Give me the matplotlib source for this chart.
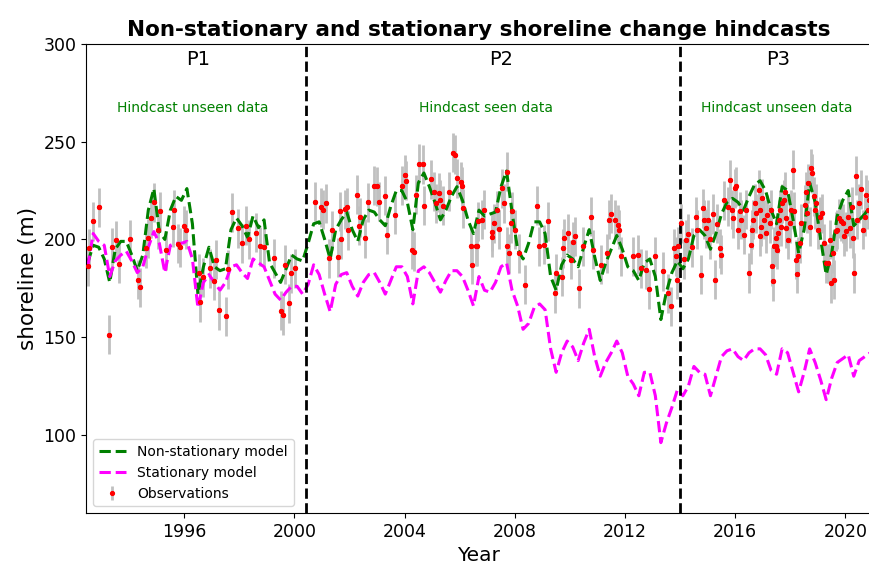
import matplotlib

matplotlib.use("Agg")
import matplotlib.pyplot as plt
import numpy as np


# model hindcasts, one value every 0.2 yr starting at T0
T0 = 1992.5
STEP = 0.2
NONSTAT = [
    188, 197, 196, 190, 178, 195, 199, 199, 192, 184, 192, 215, 226, 204, 200, 215, 222, 220, 226, 208, 172, 186, 196, 186, 184,
    185, 205, 211, 207, 201, 212, 206, 210, 188, 183, 178, 185, 192, 190, 189, 198, 208, 209, 200, 190, 205, 210, 214,
    205, 199, 210, 215, 214, 210, 207, 217, 225, 225, 219, 205, 229, 234, 227, 219, 210, 215, 222, 227, 220, 210, 203,
    215, 212, 213, 214, 227, 235, 214, 195, 190, 198, 209, 209, 203, 181, 174, 187, 192, 190, 186, 196, 205, 191, 179, 188,
    195, 202, 195, 186, 184, 179, 188, 190, 181, 159, 173, 183, 189, 185, 190, 202, 205, 202, 195, 203, 213, 219, 221,
    219, 215, 222, 228, 230, 225, 215, 208, 227, 225, 210, 193, 205, 229, 219, 200, 182, 193, 212, 220, 225, 207, 210, 213, 217,
]
STAT = [
    186, 203, 199, 197, 181, 189, 192, 194, 189, 183, 186, 196, 204, 198, 183, 197, 198, 198, 199, 190, 165, 178, 182, 178, 174,
    178, 186, 187, 183, 180, 190, 188, 186, 179, 172, 169, 173, 176, 176, 172, 177, 187, 182, 172, 163, 177, 182, 183,
    176, 171, 178, 182, 183, 178, 172, 179, 186, 186, 181, 167, 184, 186, 183, 178, 173, 179, 184, 184, 181, 174, 166,
    181, 174, 173, 178, 186, 188, 174, 166, 154, 157, 165, 167, 164, 144, 132, 142, 148, 145, 138, 147, 154, 140, 130, 137,
    142, 148, 142, 130, 126, 120, 132, 132, 120, 96, 106, 114, 123, 120, 125, 135, 132, 131, 120, 130, 140, 143, 144,
    140, 138, 142, 144, 144, 141, 133, 131, 144, 142, 132, 122, 132, 144, 137, 128, 118, 129, 137, 139, 141, 130, 138, 140, 142,
]

OBS_YEAR = [
    1992.50, 1992.53, 1992.68, 1992.92, 1993.26, 1993.38, 1993.53, 1993.65, 1994.05, 1994.32, 1994.38, 1994.62,
    1994.68, 1994.80, 1994.92, 1995.04, 1995.13, 1995.35, 1995.59, 1995.62, 1995.77, 1995.85, 1995.99, 1996.07,
    1996.53, 1996.58, 1996.68, 1996.95, 1997.08, 1997.16, 1997.26, 1997.51, 1997.59, 1997.73, 1997.95, 1998.10,
    1998.24, 1998.34, 1998.61, 1998.76, 1998.88, 1999.25, 1999.51, 1999.59, 1999.67, 1999.79, 1999.89, 2000.04,
    2000.76, 2000.98, 2001.03, 2001.13, 2001.25, 2001.35, 2001.59, 2001.64, 2001.71, 2001.83, 2001.95,
    2001.92, 2002.28, 2002.34, 2002.40, 2002.58, 2002.68, 2002.89, 2003.01, 2003.07, 2003.29, 2003.37, 2003.67,
    2003.89, 2004.01, 2004.04, 2004.28, 2004.34, 2004.40, 2004.52, 2004.67, 2004.69, 2004.95, 2005.07, 2005.13,
    2005.25, 2005.29, 2005.40, 2005.61, 2005.76, 2005.83, 2005.92, 2006.04, 2006.10, 2006.13, 2006.40, 2006.46,
    2006.58, 2006.64, 2006.66, 2006.80, 2006.88, 2007.16, 2007.19, 2007.25, 2007.37, 2007.41, 2007.55, 2007.61,
    2007.71, 2007.73, 2007.79, 2007.85, 2007.89, 2008.01, 2008.16, 2008.38, 2008.82, 2008.88, 2009.07, 2009.19,
    2009.47, 2009.49, 2009.71, 2009.76, 2009.79, 2009.92, 2010.04, 2010.10, 2010.19, 2010.34, 2010.46, 2010.76,
    2010.82, 2011.13, 2011.33, 2011.41, 2011.49, 2011.65, 2011.73, 2011.79, 2011.85, 2012.28, 2012.46, 2012.58,
    2012.76, 2012.88, 2013.07, 2013.37, 2013.55, 2013.67, 2013.79, 2013.85, 2013.87, 2013.91, 2014.04, 2014.15,
    2014.22, 2014.30, 2014.42, 2014.56, 2014.61, 2014.76, 2014.82, 2014.88, 2014.95, 2015.00, 2015.10, 2015.18,
    2015.25, 2015.35, 2015.43, 2015.49, 2015.60, 2015.73, 2015.82, 2015.89, 2015.91, 2015.98,
    2016.04, 2016.10, 2016.16, 2016.22, 2016.30, 2016.40, 2016.50, 2016.58, 2016.62, 2016.64, 2016.70, 2016.76,
    2016.86, 2016.88, 2016.91, 2016.94, 2016.98, 2017.03, 2017.10, 2017.15, 2017.25, 2017.31, 2017.35, 2017.37,
    2017.39, 2017.47, 2017.49, 2017.51, 2017.55, 2017.59, 2017.64, 2017.67, 2017.71, 2017.76, 2017.79, 2017.83,
    2017.85, 2017.91, 2017.98, 2018.04, 2018.10, 2018.12, 2018.19, 2018.24, 2018.28, 2018.34, 2018.40, 2018.52,
    2018.58, 2018.61, 2018.64, 2018.70, 2018.76, 2018.80, 2018.85, 2018.88, 2018.94, 2019.01, 2019.07, 2019.13,
    2019.21, 2019.28, 2019.37, 2019.43, 2019.49, 2019.55, 2019.58, 2019.65, 2019.71, 2019.77, 2019.85, 2019.91,
    2019.94, 2020.01, 2020.10, 2020.16, 2020.22, 2020.28, 2020.30, 2020.38, 2020.42, 2020.50, 2020.55, 2020.62,
    2020.70, 2020.76, 2020.82, 2020.86,
]
OBS_VAL = [
    186.2, 195.5, 209.2, 216.5, 151.2, 196.0, 199.5, 187.5, 200.1, 179.3, 175.6, 195.5,
    200.6, 210.9, 218.9, 204.9, 214.3, 194.4, 206.3, 215.1, 197.8, 196.0, 207.0, 204.9,
    182.7, 167.8, 180.7, 185.3, 178.8, 189.6, 163.7, 160.6, 184.8, 213.8, 205.8, 198.1,
    207.0, 200.1, 203.5, 196.4, 195.9, 190.4, 163.5, 161.1, 187.0, 167.4, 182.7, 185.3,
    219.4, 216.5, 215.1, 218.5, 190.4, 204.6, 190.9, 214.3, 200.1, 215.5, 204.6,
    216.5, 222.8, 207.0, 211.4, 200.7, 218.9, 227.4, 227.1, 219.4, 222.3, 202.4, 212.6,
    227.4, 233.0, 230.1, 194.7, 193.8, 222.8, 238.7, 238.5, 217.2, 230.8, 224.5, 218.6,
    224.0, 220.2, 217.2, 224.5, 244.4, 243.3, 231.3, 229.6, 227.1, 216.0, 196.4, 187.0,
    196.4, 196.4, 209.2, 210.0, 215.1, 201.2, 204.0, 208.3, 214.8, 205.2, 226.2, 218.6,
    234.7, 196.4, 193.0, 208.3, 214.3, 204.9, 193.0, 176.8, 217.2, 196.4, 197.2, 209.2,
    172.5, 182.7, 181.0, 195.5, 200.6, 203.2, 189.6, 198.9, 201.5, 175.1, 196.4, 211.7,
    194.7, 187.0, 193.0, 210.0, 213.1, 210.0, 207.5, 204.9, 191.3, 191.3, 192.1, 185.3,
    184.5, 174.6, 191.3, 183.6, 172.5, 165.7, 195.5, 191.3, 179.4, 196.4, 208.3, 190.0,
    199.8, 203.0, 196.0, 211.7, 204.9, 181.9, 216.0, 210.0, 205.8, 210.0, 200.0, 213.0,
    179.4, 208.0, 195.5, 192.1, 220.0, 216.8, 230.5, 215.1, 210.9, 226.2,
    227.1, 204.9, 214.3, 210.0, 202.4, 215.1, 182.8, 197.2, 204.9, 210.0, 218.6, 213.4,
    225.4, 201.5, 215.1, 206.6, 221.1, 210.0, 203.2, 212.6, 208.3, 215.1, 186.2, 178.5,
    196.4, 196.4, 200.7, 194.7, 203.2, 210.0, 215.1, 206.6, 218.6, 220.3, 224.5, 210.9,
    205.8, 199.8, 208.3, 215.1, 235.6, 214.3, 189.6, 182.4, 191.3, 198.1, 208.3, 217.7,
    224.5, 213.4, 228.8, 206.6, 236.4, 233.9, 222.0, 215.1, 218.6, 204.9, 211.7, 213.4,
    198.1, 187.9, 187.9, 199.8, 177.6, 193.0, 179.3, 204.1, 204.9, 210.9, 209.2, 208.3,
    201.5, 204.1, 211.7, 205.8, 216.8, 200.7, 182.8, 232.5, 210.0, 218.6, 225.7, 204.9,
    211.7, 222.8, 215.1, 220.3,
]
OBS_ERR = 10.0

SPLITS = [2000.44, 2014.0]
PERIODS = ["P1", "P2", "P3"]
PERIOD_X = [1996.5, 2007.5, 2017.55]
NOTES = ["Hindcast unseen data", "Hindcast seen data", "Hindcast unseen data"]
NOTE_X = [1996.3, 2006.95, 2017.5]


def main() -> None:
    years = T0 + STEP * np.arange(len(NONSTAT))

    fig = plt.figure(figsize=(8.7, 5.7), dpi=100)
    ax = fig.add_axes([0.0989, 0.1, 0.903, 0.8228])

    # grey bars + red dots, drawn below the model lines
    ax.errorbar(OBS_YEAR, OBS_VAL, yerr=OBS_ERR, fmt=".", color="red", ecolor="silver",
                elinewidth=2, markersize=5.5, zorder=1, label="Observations")
    ax.plot(years, NONSTAT, "--", color="green", lw=2.2, zorder=2, label="Non-stationary model")
    ax.plot(years, STAT, "--", color="magenta", lw=2.2, zorder=2, label="Stationary model")
    ax.plot(OBS_YEAR, OBS_VAL, ".", color="red", markersize=5.5, zorder=3)

    for xs in SPLITS:
        ax.axvline(xs, color="black", ls="--", lw=2)
    for lab, x in zip(PERIODS, PERIOD_X):
        ax.text(x, 292, lab, ha="center", va="center", fontsize=14)
    for note, x in zip(NOTES, NOTE_X):
        ax.text(x, 267.5, note, ha="center", va="center", fontsize=10, color="green")

    ax.set_xlim(1992.44, 2020.95)
    ax.set_ylim(60, 300)
    ax.set_xticks([1996, 2000, 2004, 2008, 2012, 2016, 2020])
    ax.set_yticks([100, 150, 200, 250, 300])
    ax.tick_params(labelsize=12.5)
    ax.set_xlabel("Year", fontsize=14.5)
    ax.set_ylabel("shoreline (m)", fontsize=15.5)
    ax.set_title("Non-stationary and stationary shoreline change hindcasts", fontsize=15.5, fontweight="bold")

    h, l = ax.get_legend_handles_labels()
    order = [l.index("Non-stationary model"), l.index("Stationary model"), l.index("Observations")]
    ax.legend([h[i] for i in order], [l[i] for i in order], loc="lower left", fontsize=10)

    fig.savefig("out.png", dpi=100)
    plt.close(fig)


if __name__ == "__main__":
    main()
